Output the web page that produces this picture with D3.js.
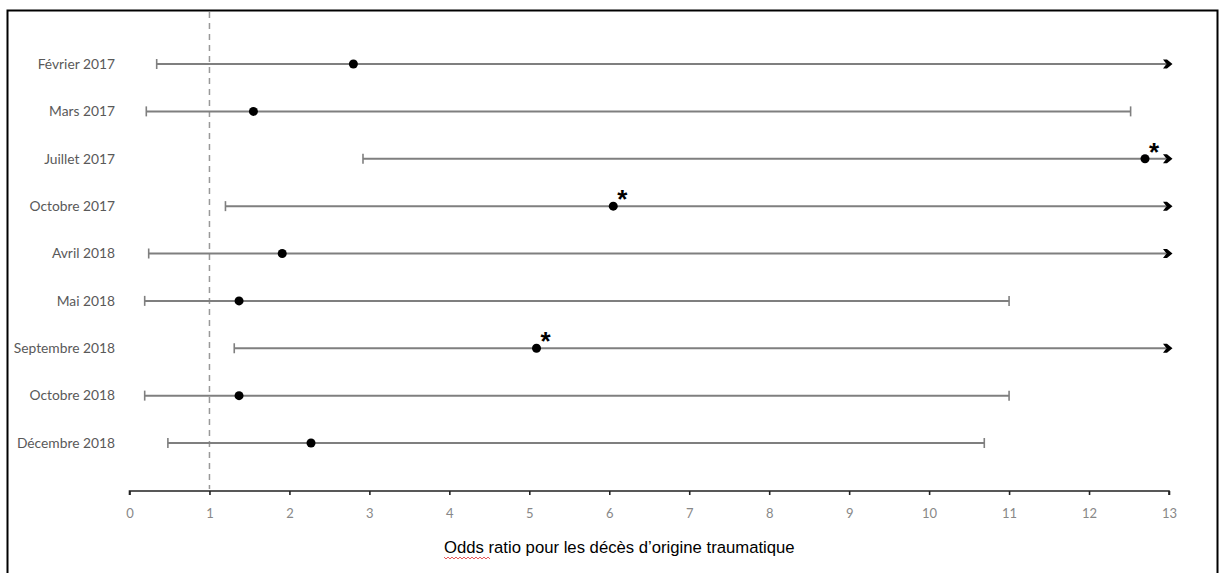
<!DOCTYPE html>
<html><head><meta charset="utf-8">
<script src="https://cdn.jsdelivr.net/npm/d3@7"></script>
<style>
html,body{margin:0;padding:0;background:#fff;}
svg{display:block;}
</style></head>
<body>
<svg id="chart" width="1219" height="573"></svg>
<script>
const categories = ["Février 2017","Mars 2017","Juillet 2017","Octobre 2017","Avril 2018","Mai 2018","Septembre 2018","Octobre 2018","Décembre 2018"];
const oddsRatio = [2.80, 1.55, 12.70, 6.05, 1.91, 1.37, 5.09, 1.37, 2.27];
const lowerCI  = [0.34, 0.21, 2.92, 1.20, 0.24, 0.19, 1.31, 0.19, 0.48];
const upperCI  = [13, 12.52, 13, 13, 13, 11.0, 13, 11.0, 10.69];
const truncated = [true, false, true, true, true, false, true, false, false];
const significant = [false, false, true, true, false, false, true, false, false];
const xTicks = [0,1,2,3,4,5,6,7,8,9,10,11,12,13];
const refLine = 1;
const axisTitle = "Odds ratio pour les décès d’origine traumatique";

const svg = d3.select("#chart");
const x = d3.scaleLinear().domain([0, 13]).range([129.5, 1169]);
const y = d3.scalePoint().domain(categories).range([64, 443]);
const axisY = 491;

// border
svg.append("rect").attr("x",7.5).attr("y",10.5).attr("width",1210).attr("height",570)
  .attr("fill","none").attr("stroke","#000").attr("stroke-width",2);

// arrow marker (bold chevron)
const defs = svg.append("defs");
defs.append("marker").attr("id","arr").attr("viewBox","0 0 10 10")
  .attr("refX",3).attr("refY",5).attr("markerWidth",10).attr("markerHeight",11)
  .attr("markerUnits","userSpaceOnUse").attr("orient","auto")
  .append("path").attr("d","M0,0.5 L4,0.5 L9.5,5 L4,9.5 L0,9.5 L3.5,5 Z").attr("fill","#000");

// reference dashed line
svg.append("line").attr("x1",x(refLine)).attr("x2",x(refLine)).attr("y1",12).attr("y2",axisY-2)
  .attr("stroke","#999").attr("stroke-width",1.5).attr("stroke-dasharray","6,5");

// axis
const axis = d3.axisBottom(x).tickValues(xTicks).tickSize(4).tickPadding(14).tickFormat(d3.format("d"));
const gAx = svg.append("g").attr("transform",`translate(0,${axisY})`).call(axis);
gAx.select(".domain").attr("stroke","#222").attr("stroke-width",1.6).attr("d",`M${x(0)},4V0H${x(13)}V4`);
gAx.selectAll(".tick line").attr("stroke","#222").attr("stroke-width",1.6);
gAx.selectAll(".tick text").attr("fill","#888").attr("font-family","Lato, 'Open Sans', sans-serif").attr("font-size",13);

// category labels
svg.append("g").selectAll("text").data(categories).join("text")
  .attr("x",115).attr("y",d=>y(d)).attr("dy","0.35em").attr("text-anchor","end")
  .attr("font-family","Lato, 'Open Sans', sans-serif").attr("font-size",13.8).attr("fill","#595959")
  .text(d=>d);

// CI lines
const rows = categories.map((c,i)=>({c, or:oddsRatio[i], lo:lowerCI[i], hi:upperCI[i], tr:truncated[i], sig:significant[i]}));
const g = svg.append("g");
g.selectAll("line.ci").data(rows).join("line").attr("class","ci")
  .attr("x1",d=>x(d.lo)).attr("x2",d=>d.tr ? x(d.hi)-3 : x(d.hi))
  .attr("y1",d=>y(d.c)).attr("y2",d=>y(d.c))
  .attr("stroke","#7f7f7f").attr("stroke-width",2)
  .attr("marker-end",d=>d.tr ? "url(#arr)" : null);
// caps
g.selectAll("line.lcap").data(rows).join("line").attr("class","lcap")
  .attr("x1",d=>x(d.lo)).attr("x2",d=>x(d.lo))
  .attr("y1",d=>y(d.c)-5).attr("y2",d=>y(d.c)+5).attr("stroke","#7f7f7f").attr("stroke-width",1.6);
g.selectAll("line.ucap").data(rows.filter(d=>!d.tr)).join("line").attr("class","ucap")
  .attr("x1",d=>x(d.hi)).attr("x2",d=>x(d.hi))
  .attr("y1",d=>y(d.c)-5).attr("y2",d=>y(d.c)+5).attr("stroke","#7f7f7f").attr("stroke-width",1.6);
// points
g.selectAll("circle").data(rows).join("circle")
  .attr("cx",d=>x(d.or)).attr("cy",d=>y(d.c)).attr("r",4.5).attr("fill","#000");
// asterisks
g.selectAll("text.sig").data(rows.filter(d=>d.sig)).join("text").attr("class","sig")
  .attr("x",d=>x(d.or)+4).attr("y",d=>y(d.c)+2)
  .attr("font-family","'Liberation Sans', Arial, sans-serif").attr("font-weight","bold").attr("font-size",26)
  .attr("fill","#000").text("*");

// axis title
svg.append("text").attr("x",444).attr("y",553)
  .attr("font-family","'Liberation Sans', Arial, sans-serif").attr("font-size",16.7).attr("fill","#000")
  .text(axisTitle);
// spell-check wavy underline under "Odds"
const wx0 = 444, wx1 = 490;
let p = `M${wx0},557`;
for (let xx = wx0, k = 0; xx < wx1; xx += 2, k++) p += `L${xx+2},${k%2 ? 557 : 559}`;
svg.append("path").attr("d",p).attr("fill","none").attr("stroke","#e03030").attr("stroke-width",0.8);
</script>
</body></html>
